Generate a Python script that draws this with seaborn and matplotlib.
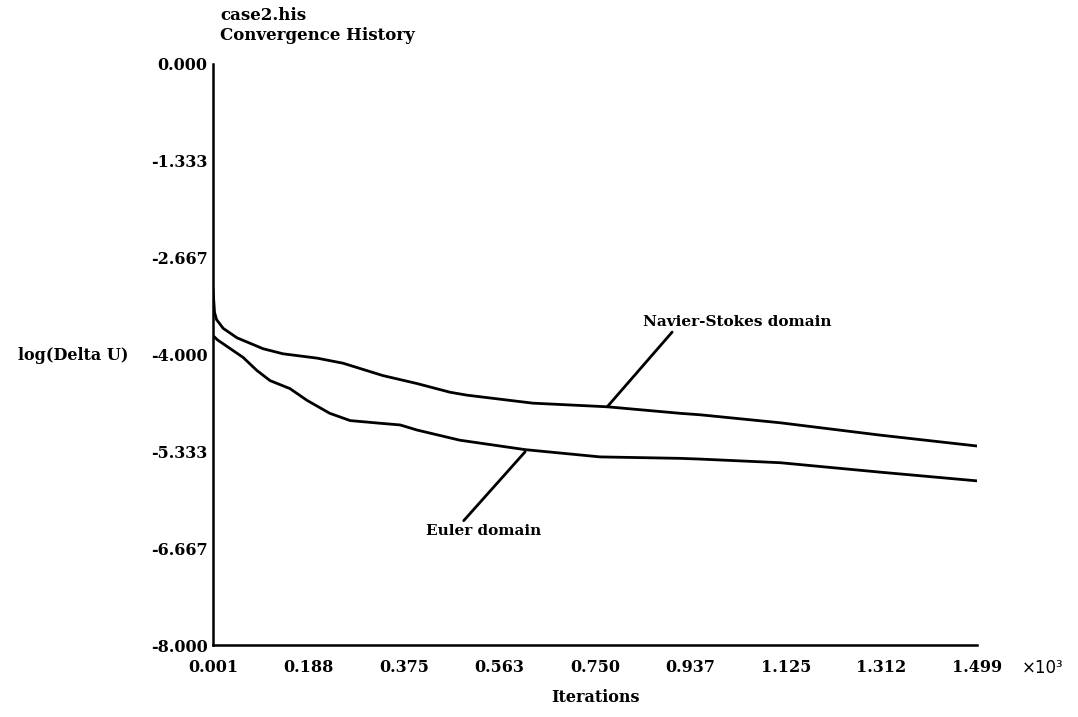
import numpy as np
import pandas as pd
import matplotlib
matplotlib.use("Agg")
import matplotlib.pyplot as plt
import seaborn as sns

# Convergence history of the two solver domains (iterations in thousands)
ns_iter = [0.001, 0.004, 0.008, 0.021, 0.048, 0.099, 0.138, 0.205, 0.256, 0.334,
           0.401, 0.466, 0.499, 0.628, 0.774, 0.917, 0.956, 1.113, 1.309, 1.499]
ns_logdu = [-3.10, -3.42, -3.52, -3.64, -3.77, -3.92, -3.99, -4.05, -4.12, -4.29,
            -4.40, -4.52, -4.56, -4.67, -4.72, -4.81, -4.83, -4.94, -5.11, -5.26]

eu_iter = [0.001, 0.010, 0.060, 0.087, 0.113, 0.152, 0.185, 0.230, 0.270, 0.334,
           0.368, 0.401, 0.485, 0.613, 0.760, 0.917, 0.956, 1.113, 1.309, 1.499]
eu_logdu = [-3.74, -3.80, -4.04, -4.22, -4.36, -4.47, -4.63, -4.81, -4.91, -4.95,
            -4.97, -5.04, -5.18, -5.31, -5.41, -5.43, -5.44, -5.49, -5.62, -5.74]

x_ticks = [0.001, 0.18825, 0.3755, 0.56275, 0.750, 0.93725, 1.1245, 1.31175, 1.499]
x_tick_labels = ["0.001", "0.188", "0.375", "0.563", "0.750", "0.937", "1.125", "1.312", "1.499"]
y_ticks = [0.0, -4/3, -8/3, -4.0, -16/3, -20/3, -8.0]
y_tick_labels = ["0.000", "-1.333", "-2.667", "-4.000", "-5.333", "-6.667", "-8.000"]

df = pd.concat([
    pd.DataFrame({"iter": ns_iter, "logdu": ns_logdu, "domain": "Navier-Stokes domain"}),
    pd.DataFrame({"iter": eu_iter, "logdu": eu_logdu, "domain": "Euler domain"}),
])

sns.set_theme(style="white")
plt.rcParams["font.family"] = ["DejaVu Serif"]
plt.rcParams["text.color"] = "black"
plt.rcParams["xtick.color"] = "black"
plt.rcParams["ytick.color"] = "black"

fig = plt.figure(figsize=(10.78, 7.17), dpi=100)
ax = fig.add_axes([213/1078, 1 - 645/717, (977-213)/1078, (645-64)/717])

sns.lineplot(data=df, x="iter", y="logdu", units="domain", estimator=None,
             color="black", linewidth=2.0, sort=False, ax=ax, legend=False)

ax.set_xlim(0.001, 1.499)
ax.set_ylim(-8.0, 0.0)
ax.set_xticks(x_ticks)
ax.set_xticklabels(x_tick_labels, fontsize=11.5, fontweight="bold")
ax.set_yticks(y_ticks)
ax.set_yticklabels(y_tick_labels, fontsize=11.5, fontweight="bold")
ax.tick_params(axis="x", direction="out", length=4, width=1.3, color="black", pad=6)
ax.tick_params(axis="y", direction="out", length=4, width=1.3, color="black", pad=0)
ax.set_xlabel("")
ax.set_ylabel("")
for side in ("top", "right"):
    ax.spines[side].set_visible(False)
for side in ("left", "bottom"):
    ax.spines[side].set_color("black")
    ax.spines[side].set_linewidth(1.8)

# Leader lines and labels for each curve
ax.annotate("Navier-Stokes domain", xy=(0.774, -4.72), xytext=(0.844, -3.55),
            fontsize=11, fontweight="bold", ha="left", va="center",
            arrowprops=dict(arrowstyle="-", color="black", lw=2.0,
                            shrinkA=0, shrinkB=0, relpos=(0.17, 0.0)))
ax.annotate("Euler domain", xy=(0.613, -5.34), xytext=(0.419, -6.43),
            fontsize=11, fontweight="bold", ha="left", va="center",
            arrowprops=dict(arrowstyle="-", color="black", lw=2.0,
                            shrinkA=0, shrinkB=0, relpos=(0.3, 1.0)))

fig.text(220/1078, 1 - 7/717, "case2.his\nConvergence History", ha="left", va="top",
         fontsize=12, fontweight="bold", linespacing=1.2)
fig.text(595/1078, 1 - 697/717, "Iterations", ha="center", va="center",
         fontsize=11.5, fontweight="bold")
fig.text(18/1078, 1 - 355/717, "log(Delta U)", ha="left", va="center",
         fontsize=11.5, fontweight="bold")
fig.text(1022/1078, 1 - 668/717, "×10³", ha="left", va="center",
         fontsize=12, family="DejaVu Sans")

fig.savefig("out.png", dpi=100, facecolor="white")
